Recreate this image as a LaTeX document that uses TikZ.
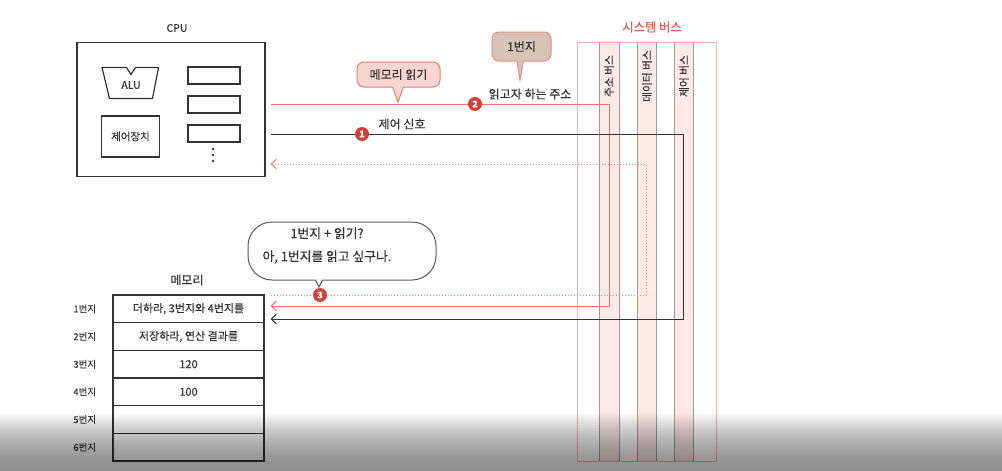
\documentclass[tikz,border=0pt]{standalone}
\usepackage{fontspec}
\setmainfont{Noto Sans CJK KR}[FakeBold=0.3]
\usetikzlibrary{arrows.meta}
\definecolor{linered}{HTML}{E8726C}
\definecolor{dotred}{HTML}{EE8A85}
\definecolor{numred}{HTML}{D2403A}
\definecolor{inkgray}{HTML}{333333}
\definecolor{busred}{HTML}{F0B2AD}
\definecolor{buspink}{HTML}{FDE9E5}
\definecolor{busgray}{HTML}{A09A9A}
\definecolor{bubApink}{HTML}{F8D5D1}
\definecolor{bubAline}{HTML}{E27D77}
\definecolor{bubBfill}{HTML}{D9C2B8}
\definecolor{bubBline}{HTML}{D9908A}
\definecolor{titlered}{HTML}{E0605A}
\tikzset{
  txt/.style={inner sep=0pt, font=\fontsize{12}{14}\selectfont, text=inkgray},
  smalltxt/.style={inner sep=0pt, font=\fontsize{9.5}{11}\selectfont, text=inkgray},
  cpubox/.style={draw=inkgray, line width=1.2pt, inner sep=0pt},
  membox/.style={draw=inkgray, line width=1.3pt, inner sep=0pt, minimum width=151pt, minimum height=27.67pt, font=\fontsize{11}{13}\selectfont, text=inkgray},
  tipA/.style={-{Straight Barb[length=5pt,width=10pt]}},
  addrline/.style={draw=linered, line width=1pt, tipA},
  ctrlline/.style={draw=inkgray, line width=1pt, tipA},
  dataline/.style={draw=dotred, line width=1pt, dotted, tipA},
  numdot/.style={circle, fill=numred, text=white, inner sep=0pt, minimum size=14pt, font=\fontsize{9}{9}\selectfont\bfseries},
  buslbl/.style={rotate=90, inner sep=0pt, font=\fontsize{10.7}{12}\selectfont, text=inkgray},
  bubA/.style={draw=bubAline, fill=bubApink, line width=1pt, rounded corners=7pt, inner sep=0pt, font=\fontsize{12}{14}\selectfont, text=inkgray},
  bubB/.style={draw=bubBline, fill=bubBfill, line width=1pt, rounded corners=7pt, inner sep=0pt, font=\fontsize{12}{14}\selectfont, text=inkgray},
  bubC/.style={draw=inkgray!80, fill=white, line width=1pt, rounded corners=24pt, inner sep=0pt},
  bubCtxt/.style={inner sep=0pt, align=center, font=\fontsize{12.8}{23}\selectfont, text=inkgray},
}
\begin{document}
\begin{tikzpicture}[x=1pt,y=-1pt]
\useasboundingbox[fill=white] (0,0) rectangle (1002,471);

% ---------- system bus ----------
\fill[buspink] (599,42) rectangle (619,461);
\fill[buspink] (637,42) rectangle (656,461);
\fill[buspink] (674,42) rectangle (693,461);
\draw[busred, line width=0.8pt] (577,42) rectangle (716,461);
\foreach \bx in {599,619,637,656,674,693}
  \draw[busgray, line width=1pt] (\bx,42) -- (\bx,461);
\node[txt, text=titlered, font=\fontsize{12.3}{14}\selectfont] (bustitle) at (652,27) {시스템 버스};
\node[buslbl] (abl) at (609,76) {주소 버스};
\node[buslbl] (dbl) at (647,76) {데이터 버스};
\node[buslbl] (cbl) at (684,76) {제어 버스};

% ---------- CPU ----------
\node[txt, font=\fontsize{10.5}{12}\selectfont] (cpulbl) at (177,28) {CPU};
\node[cpubox, minimum width=188pt, minimum height=134pt] (cpu) at (171,109.5) {};
\draw[inkgray, line width=1.2pt] (102,67.5) -- (126.5,67.5) -- (131,74.5) -- (135.5,67.5) -- (158.5,67.5) -- (152.5,98.5) -- (109.5,98.5) -- cycle;
\node[txt, font=\fontsize{10.5}{12}\selectfont] (alu) at (131,85) {ALU};
\node[cpubox, minimum width=58pt, minimum height=41pt, font=\fontsize{10.5}{12}\selectfont, text=inkgray] (cu) at (130.5,136.5) {제어장치};
\node[cpubox, minimum width=52pt, minimum height=17pt] (r1) at (214,75.5) {};
\node[cpubox, minimum width=52pt, minimum height=17pt] (r2) at (214,104.5) {};
\node[cpubox, minimum width=52pt, minimum height=17pt] (r3) at (214,133.5) {};
\foreach \dy in {149,155,161}
  \fill[inkgray] (213,\dy) circle (1.3pt);

% ---------- memory ----------
\node[txt] (memlbl) at (187,280) {메모리};
\node[membox] (m1) at (188.5,308.8) {더하라, 3번지와 4번지를};
\node[membox] (m2) at (188.5,336.5) {저장하라, 연산 결과를};
\node[membox] (m3) at (188.5,364.2) {120};
\node[membox] (m4) at (188.5,391.8) {100};
\node[membox] (m5) at (188.5,419.5) {};
\node[membox] (m6) at (188.5,447.2) {};
\foreach \k in {1,...,6}
  \node[smalltxt, anchor=east] (lbl\k) at ([xshift=-16pt]m\k.west) {\k 번지};

% ---------- connectors ----------
\coordinate (cpuR) at ([xshift=5pt]cpu.east);
\coordinate (memR) at ([xshift=6pt]m1.east);
\coordinate (abus) at (609,104);
\coordinate (abusd) at (609,306);
\coordinate (cbus) at (683,134);
\coordinate (cbusd) at (683,319);
\coordinate (dbus) at (646,164);
\coordinate (dbusd) at (646,295);
\draw[addrline] (cpuR |- abus) -- (abus) -- (abusd) -- (memR |- abusd);
\draw[ctrlline] (cpuR |- cbus) -- (cbus) -- (cbusd) -- (memR |- cbusd);
\draw[dataline] (memR |- dbusd) -- (dbusd) -- (dbus) -- (cpuR |- dbus);

\node[numdot] (n1) at (362,134) {1};
\node[numdot] (n2) at (475,104) {2};
\node[numdot] (n3) at (320,295) {3};

\node[txt] (ctrltxt) at (402,124) {제어 신호};
\node[txt] (addrtxt) at (530,94) {읽고자 하는 주소};

% ---------- bubbles ----------
\node[bubA, minimum width=83pt, minimum height=25pt] (b1) at (398.5,74.5) {메모리 읽기};
\fill[bubApink] (392.5,86) -- (398,102) -- (403.5,86) -- cycle;
\draw[bubAline, line width=1pt] (392.5,87) -- (398,102) -- (403.5,87);

\node[bubB, minimum width=59pt, minimum height=29pt] (b2) at (521.5,46.5) {1번지};
\fill[bubBfill] (517,60) -- (520,80) -- (523.5,60) -- cycle;
\draw[bubBline, line width=1pt] (517,61) -- (520,80) -- (523.5,61);

\node[bubC, minimum width=188pt, minimum height=58pt] (b3) at (342,251) {};
\node[bubCtxt] (b3t) at (327,245.5) {1번지 + 읽기?\\아, 1번지를 읽고 싶구나.};
\fill[white] (315.5,279) -- (319,287) -- (322.5,279) -- cycle;
\draw[inkgray!80, line width=1pt] (315.5,280) -- (319,287) -- (322.5,280);

% ---------- bottom shade ----------
\foreach \i [evaluate=\i as \op using {0.44*(1-(1-\i/30)^1.7)}] in {0,...,29}
  \fill[black, opacity=\op] (0,{411+2*\i}) rectangle (1002,{413+2*\i});
\end{tikzpicture}
\end{document}
